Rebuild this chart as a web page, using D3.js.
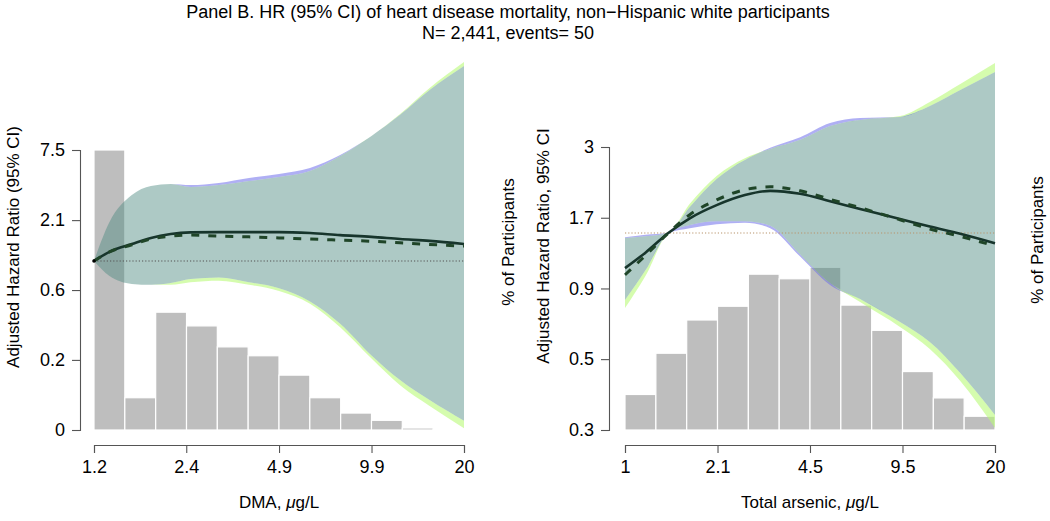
<!DOCTYPE html>
<html><head><meta charset="utf-8">
<script src="https://cdn.jsdelivr.net/npm/d3@7"></script>
<style>
body{margin:0;background:#fff;}
svg{display:block;font-family:"Liberation Sans",Arial,Helvetica,sans-serif;}
</style></head>
<body><svg id="c" width="1050" height="521"></svg>
<script>
// ---------- Titles ----------
const titleLines = ["Panel B. HR (95% CI) of heart disease mortality, non\u2212Hispanic white participants", "N= 2,441, events= 50"];

// ---------- Left panel: DMA ----------
const xTicksL = [1.2, 2.42, 4.9, 9.9, 20];
const xLabelsL = ["1.2", "2.4", "4.9", "9.9", "20"];
const yTicksL = [0.0465, 0.166, 0.59, 2.1, 7.5];
const yLabelsL = ["0", "0.2", "0.6", "2.1", "7.5"];
const refL = 1;
const xL_vals = [1.2, 1.35, 1.6, 1.85, 2.15, 2.5, 3.1, 3.9, 4.9, 6.2, 7.8, 9.9, 12.3, 15.4, 20];
const solidL = [1.00, 1.18, 1.36, 1.52, 1.63, 1.68, 1.69, 1.69, 1.69, 1.66, 1.60, 1.55, 1.49, 1.44, 1.36];
const dashedL = [1.00, 1.18, 1.34, 1.49, 1.57, 1.60, 1.57, 1.55, 1.52, 1.49, 1.46, 1.43, 1.39, 1.35, 1.31];
const upA_L = [1.00, 2.03, 3.31, 3.90, 4.05, 3.97, 4.12, 4.51, 4.85, 5.41, 6.85, 9.67, 14.2, 22.3, 34.4];
const loA_L = [1.00, 0.76, 0.66, 0.65, 0.67, 0.72, 0.74, 0.68, 0.61, 0.48, 0.32, 0.18, 0.115, 0.080, 0.055];
const upB_L = [1.00, 2.03, 3.31, 3.90, 4.05, 3.83, 3.97, 4.27, 4.59, 5.12, 6.72, 9.67, 14.4, 23.1, 37.0];
const loB_L = [1.00, 0.76, 0.66, 0.65, 0.65, 0.68, 0.70, 0.65, 0.58, 0.46, 0.30, 0.17, 0.105, 0.072, 0.048];
const binsL = [1.2, 1.517, 1.918, 2.425, 3.065, 3.875, 4.899, 6.193, 7.830, 9.898, 12.51, 15.82, 20];
const pctL = [34.7, 4.0, 14.6, 12.9, 10.3, 9.2, 6.8, 4.0, 2.1, 1.2, 0.25, 0.1];
const pctMaxL = 34.7;

// ---------- Right panel: Total arsenic ----------
const xTicksR = [1, 2.115, 4.472, 9.457, 20];
const xLabelsR = ["1", "2.1", "4.5", "9.5", "20"];
const yTicksR = [0.3, 0.534, 0.949, 1.687, 3];
const yLabelsR = ["0.3", "0.5", "0.9", "1.7", "3"];
const refR = 1.49;
const xR_vals = [1, 1.18, 1.42, 1.69, 2.1, 2.64, 3.24, 4.13, 5.26, 6.71, 9.27, 11.8, 15.1, 20];
const solidR = [1.12, 1.27, 1.49, 1.68, 1.87, 2.03, 2.10, 2.05, 1.93, 1.81, 1.67, 1.57, 1.48, 1.37];
const dashedR = [1.06, 1.24, 1.49, 1.73, 1.95, 2.12, 2.17, 2.10, 1.96, 1.83, 1.66, 1.54, 1.45, 1.34];
const upA_R = [1.44, 1.47, 1.49, 1.84, 2.31, 2.70, 2.98, 3.25, 3.65, 3.80, 3.83, 4.19, 4.77, 5.52];
const loA_R = [0.864, 1.10, 1.49, 1.55, 1.60, 1.62, 1.55, 1.23, 0.976, 0.871, 0.722, 0.614, 0.477, 0.339];
const upB_R = [1.43, 1.45, 1.49, 1.89, 2.37, 2.74, 2.95, 3.18, 3.56, 3.74, 3.86, 4.33, 5.01, 5.94];
const loB_R = [0.809, 1.05, 1.49, 1.59, 1.64, 1.64, 1.58, 1.25, 0.992, 0.850, 0.694, 0.580, 0.447, 0.305];
const binsR = [1, 1.284, 1.648, 2.115, 2.715, 3.485, 4.472, 5.741, 7.369, 9.458, 12.14, 15.58, 20];
const pctR = [3.1, 6.7, 9.6, 10.8, 13.6, 13.2, 14.2, 10.9, 8.7, 5.1, 2.8, 1.2];
const pctMaxR = 24.7;

const svg = d3.select("#c");
const FONT = '"Liberation Sans",Arial,Helvetica,sans-serif';

svg.selectAll("text.title").data(titleLines).join("text")
  .attr("class", "title")
  .attr("x", 508).attr("y", (d, i) => 18 + i * 21)
  .attr("text-anchor", "middle").attr("font-size", 18).attr("fill", "#000")
  .text(d => d);

function panel(cfg) {
  const g = svg.append("g");
  const x = d3.scaleLog().domain(cfg.xDomain).range(cfg.xRange);
  const y = d3.scaleLog().domain(cfg.yDomain).range(cfg.yRange);
  const h = d3.scaleLinear().domain([0, cfg.pctMax]).range(cfg.yRange);

  // histogram
  g.selectAll("rect.bar").data(cfg.pct).join("rect")
    .attr("class", "bar")
    .attr("x", (d, i) => x(cfg.bins[i]))
    .attr("width", (d, i) => x(cfg.bins[i + 1]) - x(cfg.bins[i]))
    .attr("y", d => h(d))
    .attr("height", d => h(0) - h(d))
    .attr("fill", "#bebebe").attr("stroke", "#fff").attr("stroke-width", 1.2);

  const pts = cfg.xs.map((v, i) => ({
    x: v, upA: cfg.upA[i], loA: cfg.loA[i], upB: cfg.upB[i], loB: cfg.loB[i],
    iu: Math.min(cfg.upA[i], cfg.upB[i]), il: Math.max(cfg.loA[i], cfg.loB[i]),
    s: cfg.solid[i], dsh: cfg.dashed[i]
  }));
  const curve = d3.curveMonotoneX;
  const area = (a, b) => d3.area().x(d => x(d.x)).y0(d => y(d[a])).y1(d => y(d[b])).curve(curve);

  // slivers of individual bands outside intersection
  const lav = "rgba(110,110,235,0.55)", grn = "rgba(185,250,120,0.6)";
  g.append("path").datum(pts).attr("d", area("iu", "upA")).attr("fill", lav);
  g.append("path").datum(pts).attr("d", area("loA", "il")).attr("fill", lav);
  g.append("path").datum(pts).attr("d", area("iu", "upB")).attr("fill", grn);
  g.append("path").datum(pts).attr("d", area("loB", "il")).attr("fill", grn);
  // overlap band
  g.append("path").datum(pts).attr("d", area("il", "iu")).attr("fill", "rgb(77,138,129)").attr("fill-opacity", 0.46);

  // reference line
  g.append("line")
    .attr("x1", cfg.xRange[0]).attr("x2", cfg.xRange[1])
    .attr("y1", y(cfg.ref)).attr("y2", y(cfg.ref))
    .attr("stroke", cfg.refColor).attr("stroke-width", 1.2).attr("stroke-dasharray", "1.2,2");

  const line = k => d3.line().x(d => x(d.x)).y(d => y(d[k])).curve(curve);
  g.append("path").datum(pts).attr("d", line("s")).attr("fill", "none")
    .attr("stroke", "#17352c").attr("stroke-width", 2.6);
  g.append("path").datum(pts).attr("d", line("dsh")).attr("fill", "none")
    .attr("stroke", "#1f4528").attr("stroke-width", 3).attr("stroke-dasharray", "8,9");

  if (cfg.dot) {
    g.append("circle").attr("cx", x(cfg.xs[0])).attr("cy", y(cfg.ref)).attr("r", 1.8).attr("fill", "#000");
  }

  // axes
  const ax = g.append("g").attr("transform", `translate(0,${cfg.xAxisY})`)
    .call(d3.axisBottom(x).tickValues(cfg.xTicks).tickFormat((d, i) => cfg.xLabels[i])
      .tickSizeOuter(0).tickSize(8).tickPadding(7));
  const ay = g.append("g").attr("transform", `translate(${cfg.yAxisX},0)`)
    .call(d3.axisLeft(y).tickValues(cfg.yTicks).tickFormat((d, i) => cfg.yLabels[i])
      .tickSizeOuter(0).tickSize(8).tickPadding(7));
  [ax, ay].forEach(a => {
    a.selectAll("path,line").attr("stroke", "#555").attr("stroke-width", 1.1);
    a.selectAll("text").attr("font-size", 18).attr("font-family", FONT).attr("fill", "#000");
  });

  // axis titles
  const xt = g.append("text").attr("x", (cfg.xRange[0] + cfg.xRange[1]) / 2).attr("y", 508)
    .attr("text-anchor", "middle").attr("font-size", 17);
  xt.append("tspan").text(cfg.xTitle[0]);
  xt.append("tspan").attr("font-style", "italic").text("\u03bc");
  xt.append("tspan").text("g/L");

  cfg.yTitles.forEach(t => {
    g.append("text").attr("transform", `translate(${t.x},${t.y}) rotate(-90)`)
      .attr("text-anchor", "middle").attr("font-size", 17).text(t.text);
  });
}

panel({
  xDomain: [1.2, 20], xRange: [94, 464], yDomain: [yTicksL[0], yTicksL[4]], yRange: [430, 150],
  pctMax: pctMaxL, pct: pctL, bins: binsL, xs: xL_vals,
  upA: upA_L, loA: loA_L, upB: upB_L, loB: loB_L, solid: solidL, dashed: dashedL,
  ref: refL, refColor: "#555", dot: true,
  xTicks: xTicksL, xLabels: xLabelsL, yTicks: yTicksL, yLabels: yLabelsL,
  xAxisY: 445, yAxisX: 80, xTitle: ["DMA, "],
  yTitles: [{x: 19, y: 247, text: "Adjusted Hazard Ratio (95% CI)"},
            {x: 514, y: 242, text: "% of Participants"}]
});

panel({
  xDomain: [1, 20], xRange: [625, 995], yDomain: [0.3, 3], yRange: [430, 147],
  pctMax: pctMaxR, pct: pctR, bins: binsR, xs: xR_vals,
  upA: upA_R, loA: loA_R, upB: upB_R, loB: loB_R, solid: solidR, dashed: dashedR,
  ref: refR, refColor: "#b8946c", dot: false,
  xTicks: xTicksR, xLabels: xLabelsR, yTicks: yTicksR, yLabels: yLabelsR,
  xAxisY: 445, yAxisX: 609, xTitle: ["Total arsenic, "],
  yTitles: [{x: 549, y: 246, text: "Adjusted Hazard Ratio, 95% CI"},
            {x: 1043, y: 240, text: "% of Participants"}]
});
</script></body></html>
